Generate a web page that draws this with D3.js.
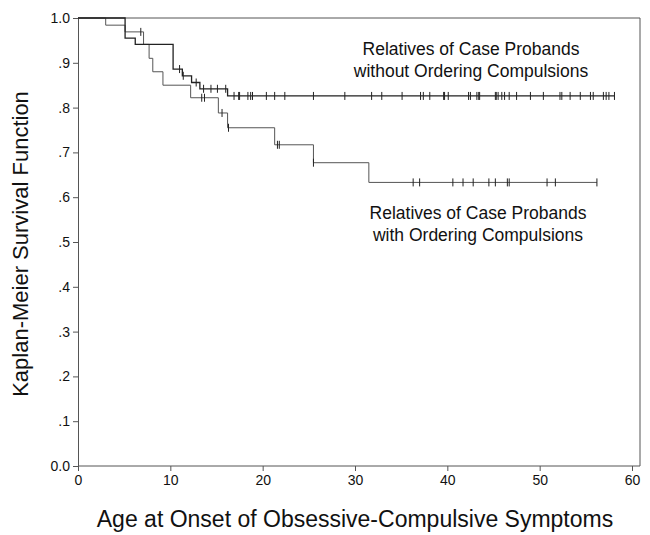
<!DOCTYPE html>
<html>
<head>
<meta charset="utf-8">
<script src="https://cdn.jsdelivr.net/npm/d3@7"></script>
<style>
  html, body { margin: 0; padding: 0; background: #fff; }
  svg { display: block; }
  text { font-family: "Liberation Sans", Arial, Helvetica, sans-serif; fill: #111; }
</style>
</head>
<body>
<svg id="chart" width="650" height="535"></svg>
<script>
// ---- data ----
const xTicks = [0, 10, 20, 30, 40, 50, 60];
const yTicks = [0, 0.1, 0.2, 0.3, 0.4, 0.5, 0.6, 0.7, 0.8, 0.9, 1.0];
const yTickLabels = ["0.0", ".1", ".2", ".3", ".4", ".5", ".6", ".7", ".8", ".9", "1.0"];

// Relatives of case probands WITHOUT ordering compulsions
const withoutEventTimes = [0, 5.1, 6.2, 10.3, 11.3, 12.3, 13.2, 16.2];
const withoutSurvival   = [1.0, 0.955, 0.941, 0.886, 0.871, 0.856, 0.842, 0.826];
const withoutCensored = [11.0, 11.4, 12.8, 13.6, 14.4, 15.1, 16.0, 16.9, 17.4, 17.5, 18.4, 18.7, 18.9,
  20.4, 21.3, 22.4, 25.5, 28.9, 31.8, 32.9, 35.1, 37.1, 37.4, 38.1, 39.6, 39.7, 40.1, 42.3, 42.5,
  43.2, 43.4, 43.5, 45.2, 45.3, 45.5, 45.9, 46.2, 46.7, 47.5, 49.0, 50.4, 52.2, 52.4, 53.3, 54.4,
  55.5, 55.8, 56.9, 57.2, 57.5, 58.1];

// Relatives of case probands WITH ordering compulsions
const withEventTimes = [0, 3.0, 5.1, 7.1, 7.7, 8.1, 9.2, 12.2, 15.2, 16.2, 21.3, 25.5, 31.5];
const withSurvival   = [1.0, 0.984, 0.969, 0.941, 0.910, 0.880, 0.850, 0.822, 0.788, 0.755, 0.717, 0.677, 0.633];
const withCensored = [6.8, 13.4, 13.7, 15.6, 16.3, 21.6, 21.8, 25.5, 36.3, 37.0, 40.6, 41.7, 42.8,
  44.5, 45.2, 46.5, 46.7, 50.8, 51.7, 56.2];

const labelWithout = ["Relatives of Case Probands", "without Ordering Compulsions"];
const labelWith = ["Relatives of Case Probands", "with Ordering Compulsions"];
const xTitle = "Age at Onset of Obsessive-Compulsive Symptoms";
const yTitle = "Kaplan-Meier Survival Function";

// ---- layout ----
const svg = d3.select("#chart");
const x = d3.scaleLinear().domain([0, 60]).range([78, 632]);
const y = d3.scaleLinear().domain([0, 1]).range([466, 18]);
const frameRight = 640;

// frame (top & right)
svg.append("line").attr("x1", x(0)).attr("x2", frameRight).attr("y1", y(1)).attr("y2", y(1))
  .attr("stroke", "#555").attr("stroke-width", 1);
svg.append("line").attr("x1", frameRight).attr("x2", frameRight).attr("y1", y(1)).attr("y2", y(0))
  .attr("stroke", "#555").attr("stroke-width", 1);

// axes
const xAxis = svg.append("g").attr("transform", `translate(0,${y(0)})`)
  .call(d3.axisBottom(x).tickValues(xTicks).tickSize(5).tickPadding(4).tickFormat(d3.format("d")));
xAxis.select(".domain").attr("d", `M${x(0)},0H${frameRight}`);
const yAxis = svg.append("g").attr("transform", `translate(${x(0)},0)`)
  .call(d3.axisLeft(y).tickValues(yTicks).tickSize(5).tickPadding(3)
    .tickFormat((d, i) => yTickLabels[i]));
[xAxis, yAxis].forEach(g => {
  g.selectAll(".domain").attr("stroke", "#555");
  g.selectAll(".tick line").attr("stroke", "#555");
  g.selectAll(".tick text").attr("font-size", 14).attr("fill", "#111")
    .attr("font-family", '"Liberation Sans", Arial, sans-serif');
});

// survival curves
function curvePoints(times, surv, cens) {
  const pts = times.map((t, i) => [t, surv[i]]);
  const end = Math.max(d3.max(cens), d3.max(times));
  pts.push([end, surv[surv.length - 1]]);
  return pts;
}
function survAt(times, surv, t) {
  let s = surv[0];
  for (let i = 0; i < times.length; i++) if (times[i] <= t) s = surv[i];
  return s;
}
const line = d3.line().x(d => x(d[0])).y(d => y(d[1])).curve(d3.curveStepAfter);

const series = [
  { times: withEventTimes, surv: withSurvival, cens: withCensored, color: "#555", width: 1 },
  { times: withoutEventTimes, surv: withoutSurvival, cens: withoutCensored, color: "#222", width: 1.3 }
];
series.forEach(s => {
  svg.append("path").datum(curvePoints(s.times, s.surv, s.cens))
    .attr("d", line).attr("fill", "none").attr("stroke", s.color).attr("stroke-width", s.width);
  svg.append("g").selectAll("line").data(s.cens).join("line")
    .attr("x1", d => x(d)).attr("x2", d => x(d))
    .attr("y1", d => y(survAt(s.times, s.surv, d)) - 4)
    .attr("y2", d => y(survAt(s.times, s.surv, d)) + 4)
    .attr("stroke", "#222").attr("stroke-width", 1);
});

// annotations
function label(lines, cx, y0) {
  const t = svg.append("text").attr("text-anchor", "middle").attr("font-size", 17.5);
  lines.forEach((l, i) => t.append("tspan").attr("x", cx).attr("y", y0 + i * 22).text(l));
}
label(labelWithout, 471, 55);
label(labelWith, 478, 219);

// titles
svg.append("text").attr("x", 355).attr("y", 527).attr("text-anchor", "middle")
  .attr("font-size", 23).text(xTitle);
svg.append("text").attr("transform", "translate(28,244) rotate(-90)").attr("text-anchor", "middle")
  .attr("font-size", 22).text(yTitle);
</script>
</body>
</html>
